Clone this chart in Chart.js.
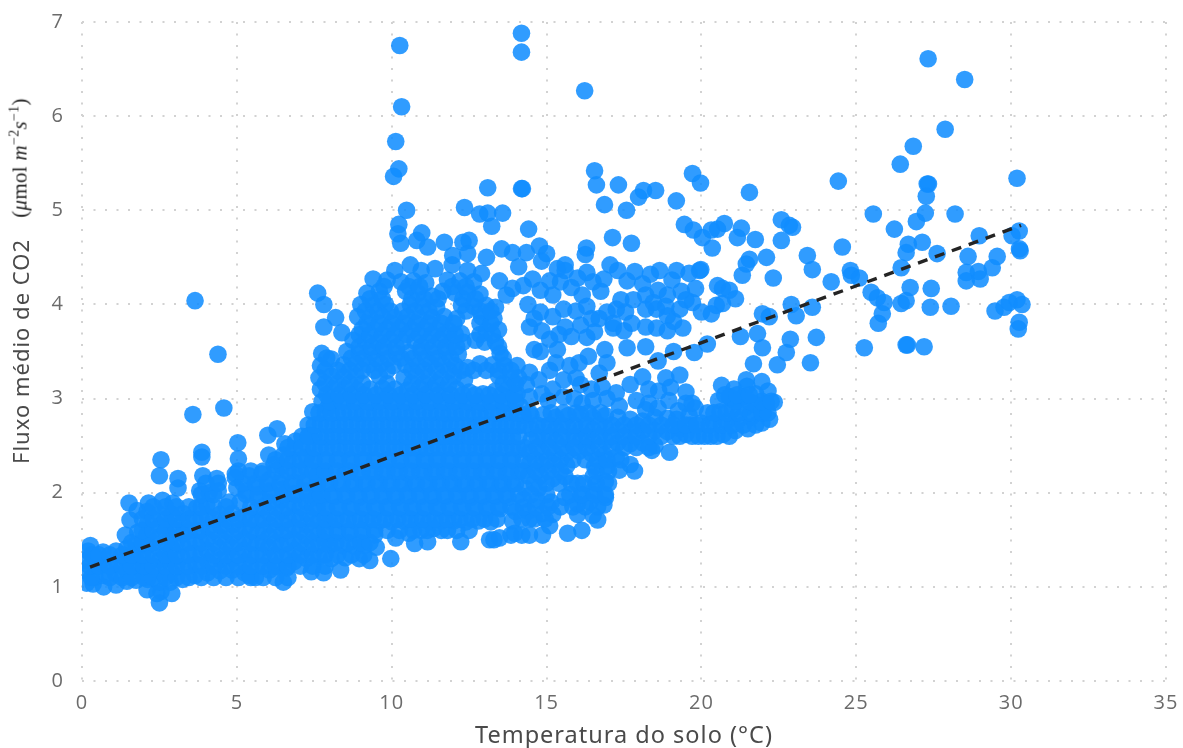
<!DOCTYPE html>
<html lang="pt">
<head>
<meta charset="utf-8">
<title>Fluxo de CO2 x Temperatura do solo</title>
<script src="https://cdn.jsdelivr.net/npm/chart.js@4"></script>
<style>
  html, body { margin: 0; background: #fff; }
  #wrap { position: relative; width: 1183px; height: 748px; overflow: hidden; }
  #unidade {
    position: absolute; left: 20px; top: 158px; white-space: nowrap;
    transform: translate(-50%, -50%) rotate(-90deg);
    font: 21px "Liberation Serif", serif; color: #222; letter-spacing: .3px;
  }
  #unidade sup { font-size: 14px; line-height: 0; }
</style>
</head>
<body>
<div id="wrap">
  <canvas id="grafico" width="1183" height="748"></canvas>
  <div id="unidade">(<i>μ</i>mol <i>m</i><sup>−2</sup><i>s</i><sup>−1</sup>)</div>
</div>
<script>
// Valores: [temperatura do solo, fluxo de CO2]
const ticksX = [0, 5, 10, 15, 20, 25, 30, 35];
const ticksY = [0, 1, 2, 3, 4, 5, 6, 7];

const tendenciaX = [0.26, 30.32];
const tendenciaY = [1.21, 4.84];

const isolados = [
  [10.26,6.75],[14.19,6.88],[14.19,6.68],[10.32,6.10],[16.23,6.27],[10.13,5.73],[10.23,5.44],[10.06,5.36],
  [10.48,5.0],[3.65,4.04],[4.39,3.47],[3.58,2.83],[4.58,2.9],[27.32,6.61],[28.5,6.39],[27.87,5.86],[26.84,5.68],
  [13.1,5.24],[14.19,5.23],[14.22,5.23],[16.55,5.42],[16.61,5.27],[17.32,5.27],[16.87,5.06],[17.58,5.0],[17.97,5.14],
  [18.13,5.21],[18.52,5.21],[19.19,5.1],[12.35,5.03],[12.84,4.96],[13.1,4.97],[13.58,4.97],[13.23,4.83],[14.42,4.8],
  [10.23,4.85],[10.2,4.75],[10.29,4.65],[10.97,4.76],[10.81,4.68],[11.16,4.61],[11.7,4.66],[12.3,4.66],[12.5,4.68],
  [11.97,4.52],[12.45,4.54],[13.06,4.5],[13.55,4.59],[13.9,4.55],[14.35,4.55],[14.77,4.62],[15,4.54],[14.84,4.46],
  [14.1,4.4],[16.29,4.6],[16.25,4.53],[17.13,4.71],[17.74,4.65],[15.6,4.42],
  [7.61,4.12],[7.81,4.0],[8.19,3.86],[7.81,3.76],[8.39,3.70]
];

const pontosDireita = [
  [19.71,5.39],[19.97,5.29],[21.55,5.19],[24.42,5.31],[26.42,5.49],[30.19,5.34],[27.29,5.28],[27.33,5.28],[27.26,5.15],
  [27.23,4.97],[26.94,4.88],[25.55,4.96],[28.19,4.96],[26.23,4.80],[22.58,4.90],[22.94,4.82],[22.84,4.84],[21.29,4.81],
  [20.74,4.86],[20.52,4.80],[20.32,4.79],[19.45,4.85],[19.74,4.79],[20.03,4.71],[21.16,4.71],[21.74,4.69],[22.58,4.68],
  [20.35,4.60],[24.55,4.61],[26.68,4.64],[27.13,4.66],[26.61,4.55],[27.61,4.54],[30.03,4.73],[30.26,4.78],[28.97,4.73],
  [30.29,4.57],[30.27,4.59],[29.55,4.51],[28.61,4.51],[23.42,4.52],[22.10,4.50],[21.55,4.48],[21.45,4.43],[26.45,4.39],
  [29.39,4.39],[28.55,4.34],[28.94,4.35],[28.55,4.25],[29.0,4.27],[19.94,4.36],[19.98,4.37],[21.32,4.31],[22.32,4.28],
  [23.58,4.37],[24.81,4.36],[24.84,4.31],[25.1,4.28],[24.19,4.24],[20.52,4.20],[19.81,4.17],[20.68,4.17],[20.9,4.15],
  [21.1,4.06],[26.74,4.18],[27.42,4.17],[25.48,4.13],[25.68,4.07],[25.9,4.02],[26.61,4.04],[26.45,4.01],[27.39,3.97],
  [28.06,3.98],[29.48,3.93],[29.77,3.97],[29.94,4.02],[30.19,4.05],[30.35,4.0],[25.84,3.90],[25.71,3.80],[30.26,3.81],
  [30.23,3.74],[25.26,3.54],[26.61,3.57],[26.65,3.57],[27.19,3.55],[23.71,3.65],[22.87,3.63],[22.74,3.49],[23.52,3.38],
  [22.45,3.36],[21.97,3.54],[21.81,3.69],[21.26,3.66],[20.19,3.58],[19.77,3.49],[21.68,3.37],[21.97,3.90],[22.19,3.87],
  [22.9,4.0],[23.06,3.88],[23.58,3.97],[20.32,3.90],[20,3.92],[19.71,4.02],[20.48,3.99],[20.68,4.01]
];

const dispersaoAlta = [
  [15.6,4.36],[16,4.28],[15.45,4.24],[16.15,4.1],[15.1,4.25],[14.55,4.27],[15.2,4.1],[16.5,4.24],[16.85,4.27],[17.3,4.36],
  [17.6,4.25],[18.1,4.22],[18.65,4.36],[19.2,4.36],[19.05,4.26],[19.35,4.14],[19.6,4.33],[18.2,4.1],[17.4,4.05],
  [17.25,3.95],[16.7,3.85],[17.15,3.8],[18.2,3.95],[17.75,3.8],[18.55,3.95],[18.9,3.88],[19.3,3.95],[19.4,3.75],
  [18.55,3.75],[18.2,3.76],[18.2,3.55],[17.6,3.54],[16.88,3.52],[16.55,3.71],[17.15,3.75],[15.55,3.95],[15.95,3.93],
  [15.2,3.87],[15.6,3.76],[15.8,3.66],[15.1,3.63],[14.6,3.52],[14.45,3.76],[14.4,4],[14.8,3.92],
  [15.1,3.3],[14.45,3.28],[14.1,3.22],[15.55,3.2],[16.05,3.38],[16.7,3.27],[18.1,3.23],[18.85,3.22],[18.62,3.08],
  [19.5,3.07],[17.9,2.98],[18.95,2.98],[17.25,3.06],[17.35,2.92],[16.5,2.98],[15.2,3.1],[14.45,3.02],[15.9,3.0],
  [16.1,3.15],[17.7,3.15],[19.1,3.5],[18.6,3.4],[19.3,3.25],[16.45,3.1],
  [13.9,4.17],[14.25,4.2],[14.8,4.15],[15.35,4.38],[15.8,4.18],[16.3,4.34],[16.75,4.14],[17.05,4.42],[17.85,4.35],[18.35,4.32],
  [18.6,4.15],[18.9,4.1],[19.5,4.05],[17.8,4.05],[17.55,3.92],[16.3,3.98],[16.45,3.85],[16.95,3.92],[18.45,4.02],[18.85,3.98],
  [19.1,3.82],[18.9,3.72],[17.5,3.72],[16.3,3.65],[16.1,3.78],[15.4,3.68],[14.85,3.72],[14.6,3.85],[14.8,3.5],[15.35,3.52],
  [16.35,3.45],[16.95,3.38],[15.75,3.35],[15.3,3.38],[14.75,3.2],[15.95,3.22],[16.8,3.12],[18.3,3.1],[19,3.12],[15.05,2.98],
  [15.55,3.02],[16.15,2.95],[16.95,3],[18.3,2.95],[19.5,2.95],[14.35,3.15],[14.85,3.05]
];

const nuvemCentral = [
  [10.1,4.36],[10.6,4.42],[10.95,4.36],[11.4,4.38],[11.95,4.42],[12.45,4.36],[12.9,4.33],
  [9.4,4.27],[9.85,4.26],[10.3,4.24],[10.7,4.25],[11.1,4.23],[11.8,4.26],[12.2,4.25],[12.65,4.24],[13.48,4.25],
  [9.2,4.12],[9.6,4.14],[10.45,4.14],[10.85,4.12],[11.3,4.09],[11.65,4.14],[12.05,4.12],[12.45,4.13],[12.85,4.11],[13.7,4.1],
  [9.0,4.0],[9.4,3.99],[9.8,4.0],[10.6,4.0],[11,3.98],[11.45,3.97],[12.25,3.99],[12.65,3.98],[13.05,3.99],[13.35,3.97],
  [8.9,3.87],[9.3,3.86],[9.7,3.87],[10.1,3.86],[10.5,3.87],[10.9,3.85],[11.3,3.86],[11.7,3.87],[12.1,3.85],[12.9,3.87],[13.3,3.85],
  [9.05,3.74],[9.45,3.73],[9.85,3.74],[10.25,3.74],[10.65,3.73],[11.05,3.74],[11.45,3.73],[11.85,3.72],[12.25,3.69],[13.05,3.72],[13.45,3.73],
  [8.75,3.62],[9.15,3.61],[9.55,3.6],[9.95,3.62],[10.35,3.6],[10.75,3.61],[11.15,3.6],[11.55,3.62],[11.95,3.6],[12.3,3.6],[12.7,3.62],[13,3.6],[13.35,3.6],
  [8.55,3.5],[8.95,3.48],[9.35,3.49],[9.75,3.5],[10.15,3.48],[10.55,3.49],[10.95,3.5],[11.35,3.48],[11.75,3.5],[12.15,3.47],[13.5,3.48],
  [7.74,3.48],[8.05,3.42],[7.7,3.35],[8.45,3.36],[8.85,3.37],[9.25,3.36],[9.65,3.37],[10.05,3.35],[10.45,3.36],[10.85,3.35],[11.25,3.37],[11.65,3.36],[12.05,3.35],[12.45,3.33],[12.85,3.37],[13.25,3.36],[13.65,3.35],[14.05,3.35],
  [7.65,3.22],[8.05,3.24],[8.45,3.23],[8.85,3.24],[9.6,3.24],[10.4,3.22],[10.8,3.24],[11.2,3.23],[11.6,3.22],[12,3.24],[12.35,3.2],[13.45,3.24],[13.85,3.22],
  [7.7,3.1],[8.1,3.1],[8.5,3.11],[8.9,3.09],[9.3,3.1],[9.7,3.11],[10.1,3.1],[10.5,3.09],[10.9,3.11],[11.3,3.1],[11.7,3.09],[12.1,3.1],[12.5,3.07],[12.95,3.05],[13.35,3.08],[13.75,3.1],[14.05,3.05],
  [7.75,2.97],[8.15,2.97],[8.55,2.98],[8.95,2.97],[9.35,2.96],[9.75,2.98],[10.15,2.97],[10.55,2.96],[10.95,2.98],[11.35,2.97],[11.75,2.96],[12.15,2.97],[12.55,2.95],[12.95,2.95],[13.35,2.96],[13.75,2.95],[14.15,2.92],
  [7.45,2.86],[7.85,2.85],[8.25,2.85],[8.65,2.86],[9.05,2.84],[9.45,2.85],[9.85,2.86],[10.25,2.84],[10.65,2.85],[11.05,2.86],[11.45,2.85],[11.85,2.84],[12.25,2.85],[12.65,2.84],[13.05,2.85],[13.45,2.84],[13.85,2.85],[14.25,2.82],
  [7.3,2.72],[7.7,2.73],[8.1,2.72],[8.5,2.72],[8.9,2.73],[9.3,2.71],[9.7,2.72],[10.1,2.73],[10.5,2.72],[10.9,2.71],[11.3,2.72],[11.7,2.73],[12.1,2.72],[12.5,2.71],[12.9,2.72],[13.3,2.73],[13.7,2.72],[14.1,2.71],
  [7.1,2.6],[7.5,2.6],[7.9,2.59],[8.3,2.6],[8.7,2.6],[9.1,2.59],[9.5,2.6],[9.9,2.6],[10.3,2.59],[10.7,2.6],[11.1,2.6],[11.5,2.59],[11.9,2.6],[12.3,2.6],[12.7,2.59],[13.1,2.6],[13.5,2.6],[13.9,2.59],
  [7.3,2.47],[7.7,2.47],[8.1,2.47],[8.5,2.46],[8.9,2.47],[9.3,2.47],[9.7,2.46],[10.1,2.47],[10.5,2.47],[10.9,2.46],[11.3,2.47],[11.7,2.47],[12.1,2.46],[12.5,2.47],[12.9,2.47],[13.3,2.46],[13.7,2.47],[14.1,2.46],
  [7.5,2.35],[7.9,2.34],[8.3,2.35],[8.7,2.34],[9.1,2.35],[9.5,2.34],[9.9,2.35],[10.3,2.34],[10.7,2.35],[11.1,2.34],[11.5,2.35],[11.9,2.34],[12.3,2.35],[12.7,2.34],[13.1,2.35],[13.5,2.34],[13.9,2.35],
  [7.7,2.22],[8.1,2.21],[8.5,2.22],[8.9,2.21],[9.3,2.22],[9.7,2.21],[10.1,2.22],[10.5,2.21],[10.9,2.22],[11.3,2.21],[11.7,2.22],[12.1,2.21],[12.5,2.22],[12.9,2.21],[13.3,2.22],[13.7,2.21],[14.1,2.22],
  [7.9,2.09],[8.3,2.09],[8.7,2.08],[9.1,2.09],[9.5,2.09],[9.9,2.08],[10.3,2.09],[10.7,2.09],[11.1,2.08],[11.5,2.09],[11.9,2.09],[12.3,2.08],[12.7,2.09],[13.1,2.09],[13.5,2.08],[13.9,2.09],
  [7.75,1.96],[8.15,1.96],[8.55,1.96],[8.95,1.95],[9.35,1.96],[9.75,1.96],[10.15,1.95],[10.55,1.96],[10.95,1.96],[11.35,1.95],[11.75,1.96],[12.15,1.96],[12.55,1.95],[12.95,1.96],[13.35,1.96],[13.75,1.95],
  [7.9,1.83],[8.3,1.83],[8.7,1.83],[9.1,1.83],[9.5,1.82],[9.9,1.83],[10.3,1.83],[10.7,1.82],[11.1,1.83],[11.5,1.83],[11.9,1.82],[12.3,1.83],[12.7,1.83],[13.1,1.82],[13.5,1.83],
  [8,1.7],[8.4,1.7],[8.8,1.7],[9.2,1.7],[9.6,1.7],[10,1.69],[10.4,1.7],[10.8,1.7],[11.2,1.69],[11.6,1.7],[12,1.7],[12.4,1.69],[12.8,1.7],[13.2,1.69],
  [7.85,1.57],[8.25,1.57],[8.65,1.57],[9.05,1.56],[9.45,1.55],[10.13,1.52],[10.55,1.57],[10.95,1.6],[11.35,1.62],[11.8,1.6],[12.5,1.6],
  [8,1.44],[8.4,1.44],[8.8,1.43],[9.1,1.44],[9.5,1.42],[10.74,1.46],[11.16,1.48],[12.23,1.48],
  [7.65,1.32],[8.05,1.3],[8.5,1.31],[8.95,1.3],[9.29,1.28],[9.97,1.30],[8.35,1.18]
];

const faixaDireita = [
  [14.5,2.82],[14.9,2.83],[15.3,2.8],[15.7,2.82],[16.1,2.83],[16.5,2.8],[16.9,2.82],[17.3,2.8],[17.7,2.78],[18.1,2.76],[18.5,2.8],[18.9,2.79],
  [14.5,2.68],[14.9,2.7],[15.3,2.68],[15.7,2.7],[16.1,2.68],[16.5,2.67],[16.9,2.69],[17.3,2.66],[17.7,2.65],[18.1,2.66],[18.5,2.66],[18.9,2.65],[19.3,2.68],[19.65,2.72],
  [14.5,2.56],[14.9,2.56],[15.3,2.55],[15.7,2.56],[16.1,2.56],[16.5,2.55],[16.9,2.55],[17.3,2.53],[17.7,2.52],[18.1,2.53],[18.5,2.5],[18.97,2.43],[18.4,2.45],
  [14.45,2.43],[14.85,2.43],[15.25,2.42],[15.65,2.43],[16.05,2.44],[16.45,2.42],[16.85,2.4],[17.25,2.38],[17.7,2.3],[17.84,2.23],[17.35,2.24],[16.95,2.28],
  [14.45,2.31],[14.85,2.3],[15.25,2.3],[15.65,2.29],[16.55,2.28],[14.4,2.18],[14.8,2.18],[15.2,2.15],[15.6,2.17],[16,2.1],[16.5,2.17],[16.9,2.12],
  [14.3,2.05],[14.75,2.05],[16.1,1.97],[16.5,2.02],[16.9,1.95],[14.25,1.93],[14.7,1.92],[15.15,1.9],[15.6,1.95],[16,1.88],[16.4,1.9],[16.85,1.87],
  [14,1.8],[14.4,1.8],[14.87,1.78],[15.2,1.77],[16,1.77],[16.5,1.76],[13.9,1.7],[14.45,1.72],[16.65,1.71],[13.48,1.52],[13.16,1.5],[13.3,1.5],
  [13.97,1.57],[14.45,1.55],[14.87,1.55],[15.68,1.57],[16.14,1.6],[14.2,1.55],[13.85,1.55],[15.1,1.65],
  [19.1,2.6],[19.5,2.62],[19.9,2.6],[20.3,2.6],[20.7,2.62],[21.1,2.66],[21.5,2.68],[21.95,2.74],[22.2,2.78],
  [19.2,2.78],[19.6,2.82],[20,2.74],[20.4,2.74],[20.8,2.76],[21.2,2.78],[21.6,2.8],[22,2.85],[22.35,2.96],[22.1,2.95],
  [19.8,2.9],[20.2,2.85],[20.6,2.86],[21,2.88],[21.4,2.9],[21.8,2.93],[20.55,2.98],[20.95,3.0],[21.35,3.02],[21.75,3.05],[22.15,3.08],[19.7,2.95],
  [21.05,3.1],[21.47,3.13],[21.95,3.18],[21.45,3.2],[20.65,3.14],[20.9,3.02],[18.6,2.9],[18.2,2.88],[19.25,2.87]
];

const faixaBaixa = [
  [0.15,1.04],[0.18,1.16],[0.15,1.28],[0.2,1.38],[0.27,1.44],[0.36,1.03],[0.42,1.1],[0.45,1.22],[0.4,1.33],
  [0.7,1.0],[0.72,1.12],[0.7,1.24],[0.68,1.37],[1.1,1.02],[1.08,1.14],[1.12,1.26],[1.1,1.38],
  [1.45,1.06],[1.47,1.17],[1.43,1.29],[1.45,1.41],[1.4,1.55],[1.75,1.07],[1.77,1.2],[1.73,1.32],[1.75,1.45],[1.55,1.71],[1.52,1.89],[1.8,1.58],[1.78,1.81],
  [2.1,0.97],[2.12,1.08],[2.1,1.2],[2.08,1.32],[2.12,1.44],[2.1,1.56],[2.12,1.68],[2.1,1.8],[2.15,1.89],
  [2.5,0.83],[2.42,0.93],[2.55,0.95],[2.5,1.05],[2.48,1.17],[2.52,1.29],[2.5,1.41],[2.47,1.53],[2.52,1.65],[2.5,1.77],[2.6,1.92],
  [2.9,0.93],[2.85,1.05],[2.88,1.17],[2.85,1.29],[2.9,1.41],[2.87,1.53],[2.85,1.65],[2.9,1.77],[2.93,1.89],[3.1,2.05],[3.1,2.15],[2.5,2.18],[2.55,2.35],
  [3.25,1.08],[3.27,1.2],[3.22,1.32],[3.25,1.44],[3.27,1.56],[3.24,1.68],[3.27,1.78],
  [3.65,1.12],[3.68,1.24],[3.63,1.36],[3.66,1.48],[3.68,1.6],[3.65,1.72],[3.7,1.84],[3.87,2.43],[3.87,2.38],[3.9,2.18],[3.8,2.02],
  [4.05,1.15],[4.07,1.27],[4.03,1.39],[4.05,1.51],[4.08,1.63],[4.05,1.75],[4.03,1.87],[4.1,2.0],[4.35,2.15],
  [4.45,1.17],[4.47,1.29],[4.43,1.41],[4.45,1.53],[4.47,1.65],[4.45,1.77],[4.4,2.02],[4.95,2.16],
  [4.85,1.18],[4.87,1.3],[4.83,1.42],[4.85,1.54],[4.87,1.66],[4.85,1.78],[5.1,1.9],[5.0,2.05],[4.95,2.2],[5.05,2.36],[5.03,2.53],
  [5.25,1.15],[5.27,1.27],[5.23,1.39],[5.25,1.51],[5.27,1.63],[5.25,1.75],[5.3,2.02],[5.4,2.18],[4.75,1.9],
  [5.6,1.1],[5.4,1.12],[5.65,1.22],[5.63,1.34],[5.65,1.46],[5.67,1.58],[5.65,1.7],[5.63,1.82],[5.67,1.94],[5.65,2.06],[5.8,2.2],
  [6.05,1.18],[6.07,1.3],[6.03,1.42],[6.05,1.54],[6.07,1.66],[6.05,1.78],[6.03,1.9],[6.07,2.02],[6.05,2.14],[6.2,2.3],[6.0,2.61],[6.03,2.4],
  [6.5,1.05],[6.35,1.21],[6.6,1.2],[6.47,1.32],[6.43,1.44],[6.45,1.56],[6.47,1.68],[6.45,1.8],[6.43,1.92],[6.47,2.04],[6.45,2.16],[6.3,2.68],[6.55,2.52],[6.45,2.28],[6.5,2.4],
  [6.85,1.27],[6.87,1.39],[6.83,1.51],[6.85,1.63],[6.87,1.75],[6.85,1.87],[6.83,1.99],[6.87,2.11],[6.85,2.23],[6.83,2.35],[6.87,2.47],[6.9,2.55],
  [7.4,1.16],[7.25,1.3],[7.27,1.42],[7.23,1.54],[7.25,1.66],[7.27,1.78],[7.25,1.9],[7.23,2.02],[7.27,2.14],[7.25,2.26],[7.25,2.38],[7.35,2.61],
  [7.65,1.44],[7.63,1.56],[7.65,1.7],[7.6,1.83],[7.55,1.95],[7.6,2.08],[7.62,2.2],[7.85,1.22],[7.95,2.91],[7.8,1.15]
];

// Miolo da nuvem, onde os pontos se sobrepõem: [fluxo, [temperaturas]]
const miolo = [
  [1.1, [.3,.9,1.3,1.6,2,2.3,2.7,3.05,3.45,3.85,4.25,4.65,5.05,5.45,5.85,6.25,6.65]],
  [1.22, [.25,.55,.9,1.3,1.6,2,2.3,2.7,3.05,3.45,3.85,4.25,4.65,5.05,5.45,5.85,6.25,6.65,7.05,7.45]],
  [1.34, [.3,.55,.9,1.3,1.6,1.95,2.3,2.7,3.05,3.45,3.85,4.25,4.65,5.05,5.45,5.85,6.25,6.65,7.05,7.45,7.85,8.25,8.7,9.1]],
  [1.47, [1.6,1.95,2.3,2.7,3.05,3.45,3.85,4.25,4.65,5.05,5.45,5.85,6.25,6.65,7.05,7.45,7.85,8.2,8.6,9,9.3]],
  [1.6, [1.95,2.3,2.7,3.05,3.45,3.85,4.25,4.65,5.05,5.45,5.85,6.25,6.65,7.05,7.45,7.85,8.25,8.65,9.05,9.45,9.85,10.25,10.7,11.15,11.6,12.1]],
  [1.72, [1.95,2.3,2.7,3.05,3.45,3.85,4.25,4.65,5.05,5.45,5.85,6.25,6.65,7.05,7.45,7.85,8.2,8.6,9,9.4,9.8,10.2,10.6,11,11.4,11.8,12.2,12.6,13,13.4,14.2,14.6,14.95]],
  [1.85, [2.3,2.7,3.05,3.45,3.85,4.25,4.65,5.45,5.85,6.25,6.65,7.05,7.45,7.85,8.25,8.65,9.05,9.45,9.85,10.25,10.65,11.05,11.45,11.85,12.25,12.65,13.05,13.45,13.85,14.25,14.65,15.05,15.45,15.85,16.25,16.65]],
  [1.98, [3.85,4.25,5.3,5.7,6.1,6.5,6.9,7.3,7.7,8.1,8.5,8.9,9.3,9.7,10.1,10.5,10.9,11.3,11.7,12.1,12.5,12.9,13.3,13.7,14.1,14.5,15,15.75,16.15,16.55,16.9]],
  [2.1, [4,4.4,5.2,5.6,6,6.4,6.8,7.2,7.6,8,8.4,8.8,9.2,9.6,10,10.4,10.8,11.2,11.6,12,12.4,12.8,13.2,13.6,14,14.6,15,15.4,15.8,16.2,16.6,17]],
  [2.23, [5.05,5.45,5.85,6.25,6.65,7.05,7.45,7.85,8.25,8.65,9.05,9.45,9.85,10.25,10.65,11.05,11.45,11.85,12.25,12.65,13.05,13.45,13.85,14.25,14.65,15.05,15.45,16.6,17]],
  [2.35, [6.25,6.65,7.05,7.45,7.85,8.25,8.65,9.05,9.45,9.85,10.25,10.65,11.05,11.45,11.85,12.25,12.65,13.05,13.45,13.85,14.25,14.65,15.05,15.45,15.85,16.25,16.65,16.95,17.4]],
  [2.48, [6.65,7.1,7.5,7.9,8.3,8.7,9.1,9.5,9.9,10.3,10.7,11.1,11.5,11.9,12.3,12.7,13.1,13.5,13.9,14.3,14.7,15.1,15.5,15.9,16.3,16.7,17.1,17.5,17.9,18.3]],
  [2.6, [7.3,7.7,8.1,8.5,8.9,9.3,9.7,10.1,10.5,10.9,11.3,11.7,12.1,12.5,12.9,13.3,13.7,14.1,14.7,15.1,15.5,15.9,16.3,16.7,17.1,17.5,17.9,18.3,18.7,19.3,19.7,20.1,20.5,20.9]],
  [2.72, [7.5,7.9,8.3,8.7,9.1,9.5,9.9,10.3,10.7,11.1,11.5,11.9,12.3,12.7,13.1,13.5,13.9,14.3,14.7,15.1,15.5,15.9,16.3,16.7,17.1,17.5,17.9,18.3,18.7,19.1,19.5,19.85,20.25,20.65,21,21.35,21.75]],
  [2.85, [7.65,8.05,8.45,8.85,9.25,9.65,10.05,10.45,10.85,11.25,11.65,12.05,12.45,12.85,13.25,13.65,14.05,14.45,15.15,15.55,15.95,16.35,16.75,20.4,20.8,21.2,21.6,21.95,22.15]],
  [2.97, [8,8.4,8.8,9.2,9.6,10,10.4,10.8,11.2,11.6,12,12.4,12.8,13.2,13.6,14,21.1,21.55,21.95,22.25]],
  [3.04, [7.9,8.3,8.7,9.1,9.5,9.9,10.3,10.7,11.1,11.5,11.9,12.3,12.7,13.15,13.55,13.95,20.75,21.15,21.55]],
  [3.16, [7.85,8.25,8.65,9.05,9.85,10.65,11.05,11.45,11.85,13.6,14]],
  [3.3, [7.85,8.25,8.65,9.05,9.45,9.85,10.65,11.05,11.45,11.85,12.25,12.65,13.05,13.45,13.85]],
  [3.43, [7.9,8.7,9.1,9.5,9.9,10.3,10.7,11.1,11.5,11.9,13.6]],
  [3.55, [8.95,9.35,9.75,10.15,10.95,11.35,11.75,12.1,13.45]],
  [3.68, [8.95,9.3,9.7,10.1,10.5,10.9,11.3,11.7,12.05,12.85,13.25]],
  [3.8, [9.2,9.6,10,10.4,10.8,11.2,11.6,12,12.85,13.2]],
  [3.93, [9.15,9.55,9.95,10.35,10.75,11.2,12.4,12.85,13.2]],
  [4.06, [9.3,9.7,10.65,11.05,11.5,12.3,12.7]],
  [4.19, [9.75,10.55,10.9,11.95,12.4]]
];

const pontosMiolo = miolo.flatMap(([y, xs]) => xs.map(x => [x, y]));
const pontos = [...isolados, ...pontosDireita, ...dispersaoAlta, ...nuvemCentral, ...faixaDireita, ...faixaBaixa, ...pontosMiolo];

const corEixo = '#6b6b6b';
const grade = { color: '#d2d2d2', lineWidth: 2, drawTicks: false };
const bordaPontilhada = { display: false, dash: [2, 9.5] };

// O Chart.js soma o padding dos ticks na margem; aqui a area do grafico fica fixa
function semMargem(s) {
  s.paddingTop = 0;
  s.paddingBottom = 0;
  s.paddingLeft = 0;
  s.paddingRight = 0;
}

// Texto do original e mais espaçado
const espacoLetras = {
  id: 'espacoLetras',
  beforeDraw(chart) { chart.ctx.letterSpacing = '1px'; }
};

new Chart(document.getElementById('grafico'), {
  plugins: [espacoLetras],
  data: {
    datasets: [
      {
        type: 'line',
        data: tendenciaX.map((x, i) => ({ x, y: tendenciaY[i] })),
        borderColor: '#242424',
        borderWidth: 3.4,
        borderDash: [10, 8],
        pointRadius: 0,
        tension: 0,
        order: 0
      },
      {
        type: 'scatter',
        data: pontos.map(p => ({ x: p[0], y: p[1] })),
        backgroundColor: 'rgba(17,141,255,0.87)',
        borderWidth: 0,
        pointRadius: 8.8,
        order: 1
      }
    ]
  },
  options: {
    responsive: false,
    animation: false,
    layout: { padding: { top: 22, right: 17 } },
    plugins: { legend: { display: false }, tooltip: { enabled: false } },
    scales: {
      x: {
        type: 'linear',
        min: ticksX[0],
        max: ticksX[ticksX.length - 1],
        afterFit: s => { s.height = 67; semMargem(s); },
        afterBuildTicks: s => { s.ticks = ticksX.map(value => ({ value })); },
        grid: grade,
        border: bordaPontilhada,
        ticks: { color: corEixo, padding: 10, maxRotation: 0, font: { family: 'Open Sans', size: 20 } },
        title: { display: true, text: 'Temperatura do solo (°C)', color: '#4a4a4a', padding: { top: 4, bottom: -2 }, font: { family: 'Noto Sans', size: 23.5 } }
      },
      y: {
        type: 'linear',
        min: ticksY[0],
        max: ticksY[ticksY.length - 1],
        afterFit: s => { s.width = 82; semMargem(s); },
        afterBuildTicks: s => { s.ticks = ticksY.map(value => ({ value })); },
        grid: grade,
        border: bordaPontilhada,
        ticks: { color: corEixo, padding: 18, font: { family: 'Open Sans', size: 20 } },
        title: { display: true, text: 'Fluxo médio de CO2', color: '#4a4a4a', padding: { top: 10, bottom: 0 }, font: { family: 'Noto Sans', size: 22 } }
      }
    }
  }
});
</script>
</body>
</html>
